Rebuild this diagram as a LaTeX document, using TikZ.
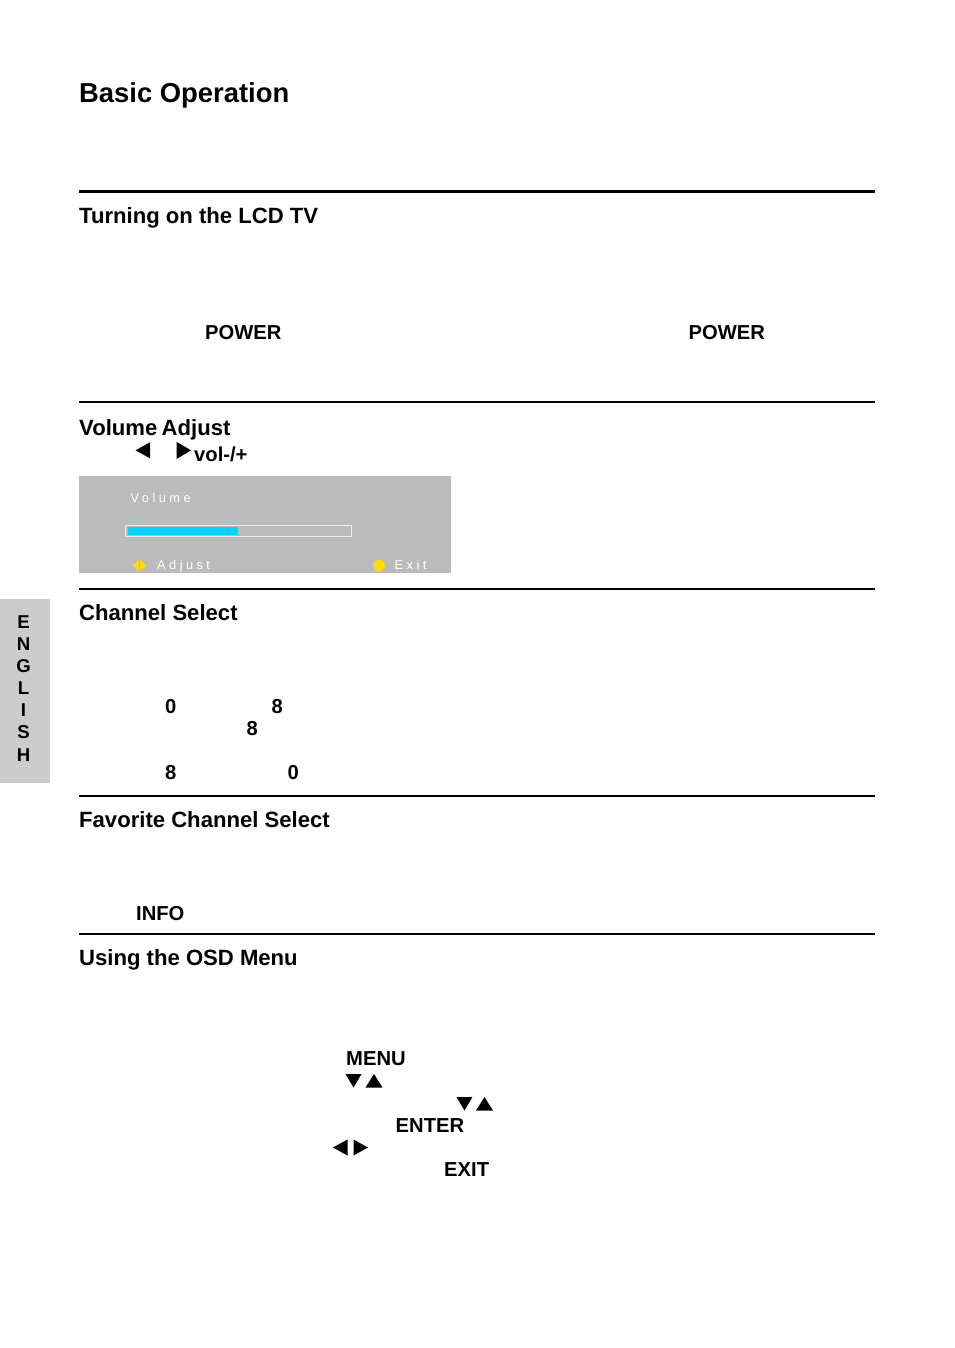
\documentclass[tikz,border=0pt]{standalone}
\usepackage{fontspec}
\setmainfont{Liberation Sans}
\definecolor{tabgray}{RGB}{204,204,204}
\definecolor{osdgray}{RGB}{187,187,187}
\definecolor{barcyan}{RGB}{0,212,255}
\definecolor{osdyellow}{RGB}{255,221,0}
\newcommand{\fs}[1]{\fontsize{#1}{#1}\selectfont}
\begin{document}
\begin{tikzpicture}[x=1pt,y=-1pt,
  txt/.style={inner sep=0pt,anchor=base west,font=\fs{20.2}\bfseries},
  title/.style={txt,font=\fs{27.4}\bfseries},
  head/.style={txt,font=\fs{22.1}\bfseries},
  tabletter/.style={inner sep=0pt,anchor=base,font=\fs{18.6}\bfseries},
  osd/.style={inner sep=0pt,anchor=base west,text=white,font=\fs{12.8}},
  tri/.style={fill=black,draw=none}]
\useasboundingbox (0,0) rectangle (954,1348);
\fill[white] (0,0) rectangle (954,1348);
\node[title] (t0) at (79,103) {Basic Operation};
\draw[line width=3pt] (79,191.5) -- (875,191.5);
\node[head] (h1) at (79,223.5) {Turning on the LCD TV};
\node[txt] (p1) at (205,339) {POWER};
\node[txt] (p2) at (688.5,339) {POWER};
\draw[line width=1.6pt] (79,402) -- (875,402);
\node[head] (h2) at (79,435.5) {Volume\hspace{-1.8pt} Adjust};
\fill[tri] (135.5,450.3) -- (150,442.3) -- (150,458.3) -- cycle;
\fill[tri] (191,450.3) -- (176.5,441.8) -- (176.5,459) -- cycle;
\node[txt] (v) at (194,461.7) {vol-/+};
% OSD
\fill[osdgray] (79,476) rectangle (451,573);
\node[osd] (o1) at (130.5,502) {\addfontfeatures{LetterSpace=27}Volume};
\draw[white!92!black,line width=1.2pt] (125.8,525.5) rectangle (351.5,536.5);
\fill[barcyan] (128,527) rectangle (238,535);
\fill[osdyellow] (132.5,565.5) -- (138.5,560) -- (138.5,571) -- cycle;
\fill[osdyellow] (146,565.5) -- (140,560) -- (140,571) -- cycle;
\node[osd] (o2) at (157,569.8) {\addfontfeatures{LetterSpace=27}Adjust};
\fill[osdyellow] (379,565.5) circle (5.8);
\node[osd] (o3) at (394.5,569.8) {\addfontfeatures{LetterSpace=27}Exit};
\draw[line width=1.6pt] (79,589) -- (875,589);
\node[head] (h3) at (79,620.5) {Channel Select};
\node[txt] (n1) at (165,713.5) {0};
\node[txt] (n2) at (271.5,713.5) {8};
\node[txt] (n3) at (246.5,735.5) {8};
\node[txt] (n4) at (165,779) {8};
\node[txt] (n5) at (287.5,779) {0};
\draw[line width=1.6pt] (79,796) -- (875,796);
\node[head] (h4) at (79,827.5) {Favorite Channel Select};
\node[txt] (i1) at (136,920) {INFO};
\draw[line width=1.6pt] (79,934) -- (875,934);
\node[head] (h5) at (79,965.5) {Using the OSD Menu};
\node[txt] (m1) at (346,1065) {MENU};
\fill[tri] (353.5,1087.5) -- (345.5,1074) -- (361.5,1074) -- cycle;
\fill[tri] (374,1074) -- (365.5,1087.5) -- (382.5,1087.5) -- cycle;
\fill[tri] (464.5,1110.5) -- (456.5,1097) -- (472.5,1097) -- cycle;
\fill[tri] (484.5,1097) -- (476,1110.5) -- (493,1110.5) -- cycle;
\node[txt] (m2) at (395.5,1132) {ENTER};
\fill[tri] (333,1147.5) -- (347.5,1139.5) -- (347.5,1155.5) -- cycle;
\fill[tri] (368,1147.5) -- (353.5,1139.5) -- (353.5,1155.5) -- cycle;
\node[txt] (m3) at (444,1176) {EXIT};
% side tab
\fill[tabgray] (0,599) rectangle (50,783);
\node[tabletter] (e1) at (23.5,628.5) {E};
\node[tabletter] (e2) at (23.5,650.5) {N};
\node[tabletter] (e3) at (23.5,672.5) {G};
\node[tabletter] (e4) at (23.5,694.5) {L};
\node[tabletter] (e5) at (23.5,716.5) {I};
\node[tabletter] (e6) at (23.5,738.5) {S};
\node[tabletter] (e7) at (23.5,761) {H};
\end{tikzpicture}
\end{document}
